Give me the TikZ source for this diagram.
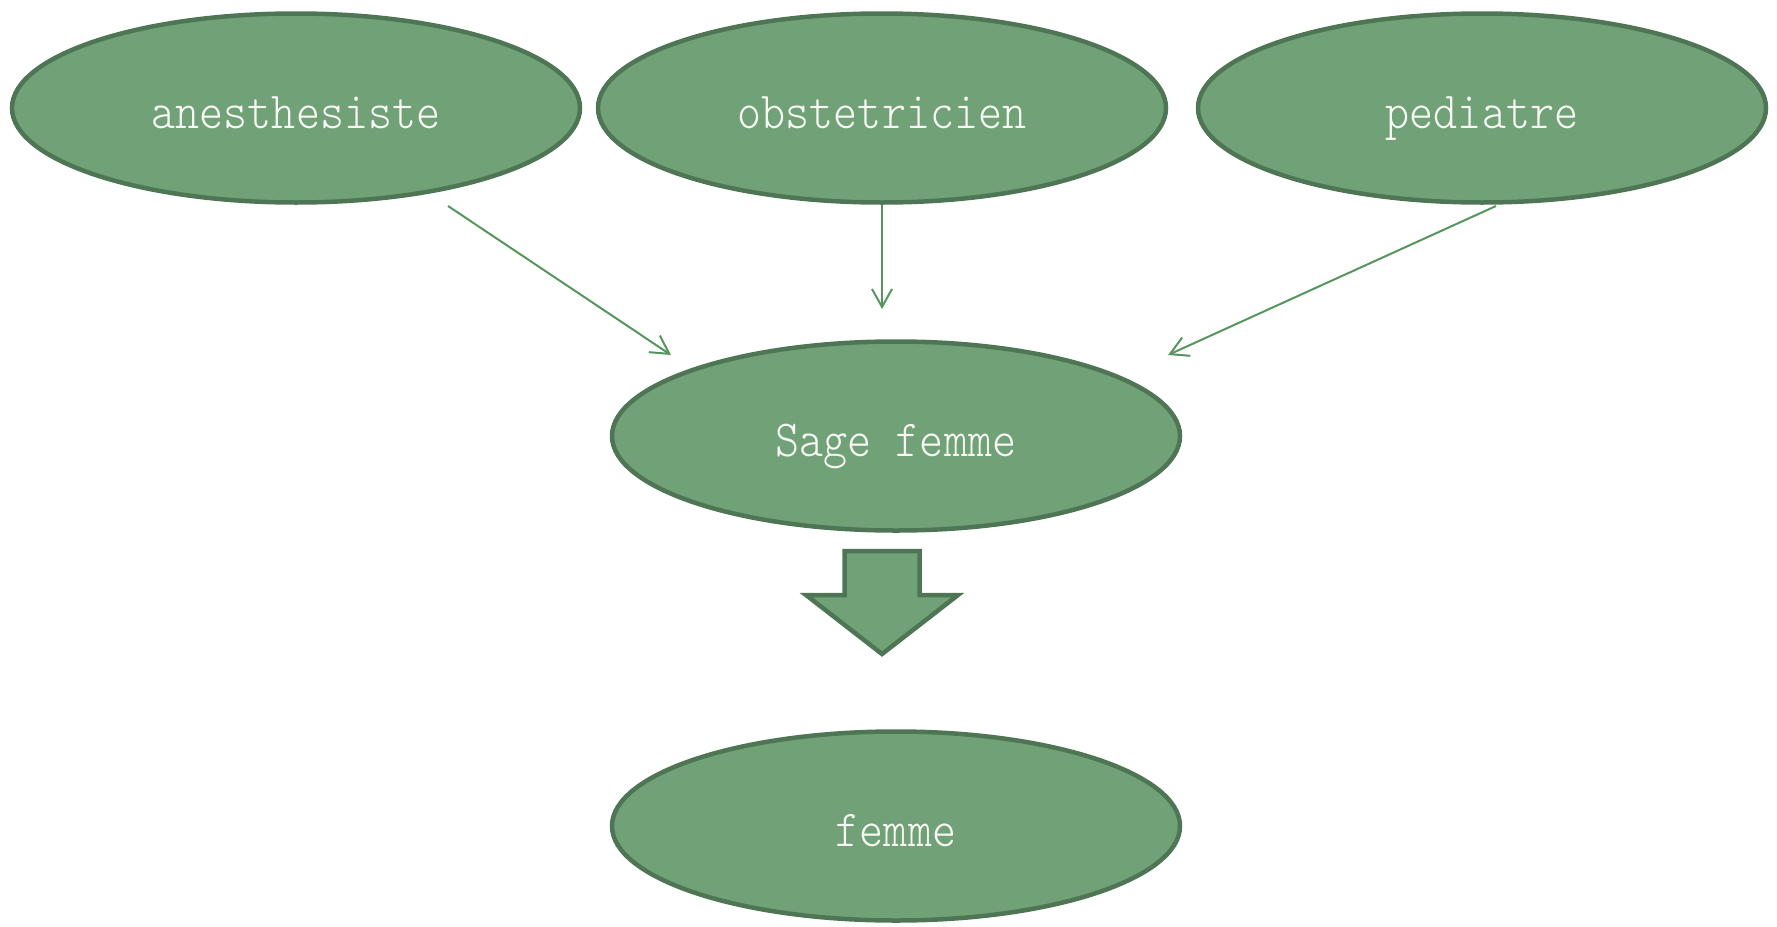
\documentclass[tikz,border=0pt]{standalone}
\usepackage{fontspec}
\newfontfamily\labfont{lmmonolt10-regular.otf}[FakeStretch=0.88]
\usetikzlibrary{arrows.meta,shapes.geometric}
\definecolor{fillg}{RGB}{113,162,119}
\definecolor{edgeg}{RGB}{78,118,84}
\definecolor{lineg}{RGB}{86,150,92}
\definecolor{txtw}{RGB}{248,248,244}
\tikzset{
  oval/.style={ellipse, draw=edgeg, fill=fillg, line width=4.5pt, inner sep=0pt,
    minimum width=568pt, minimum height=189pt, text=txtw,
    text height=48pt, text depth=8pt,
    font=\labfont\fontsize{52}{60}\selectfont},
  link/.style={draw=lineg, line width=2pt, -{Straight Barb[length=18pt,width=20pt,line width=2pt]}},
  bigarrow/.style={draw=edgeg, fill=fillg, line width=4.5pt, line join=miter}
}
\begin{document}
\begin{tikzpicture}[x=1pt,y=-1pt]
\useasboundingbox (0,0) rectangle (1777,926);
\node[oval] (anes) at (296,108) {anesthesiste};
\node[oval] (obst) at (882,108) {obstetricien};
\node[oval] (pedi) at (1482,108) {pediatre};
\node[oval] (sage) at (896,436) {Sage femme};
\node[oval] (femme) at (896,826) {femme};
\coordinate (anesOut) at (448,206);
\coordinate (anesIn) at (671,355);
\coordinate (obstOut) at (882,205);
\coordinate (obstIn) at (882,309);
\coordinate (pediOut) at (1496,206);
\coordinate (pediIn) at (1168,355);
\draw[link] (anesOut) -- (anesIn);
\draw[link] (obstOut) -- (obstIn);
\draw[link] (pediOut) -- (pediIn);
\draw[bigarrow] (844.5,551) -- (919.5,551) -- (919.5,595) -- (958,595) -- (882,654) -- (806,595) -- (844.5,595) -- cycle;
\end{tikzpicture}
\end{document}
